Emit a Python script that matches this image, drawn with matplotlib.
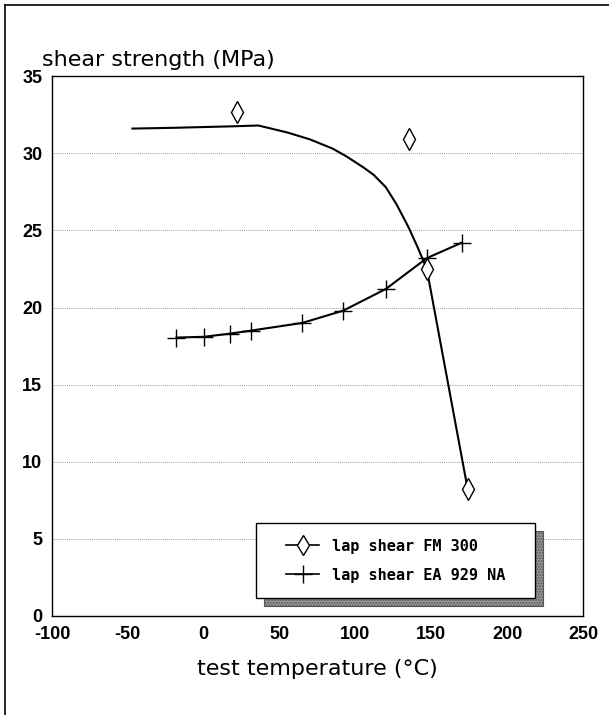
import matplotlib
matplotlib.use("Agg")
import matplotlib.pyplot as plt
from matplotlib.patches import Rectangle
from matplotlib.lines import Line2D

plt.rcParams["axes.unicode_minus"] = False

# measured points, FM 300
fm_temp = [22, 135, 147, 174]
fm_shear = [32.7, 30.9, 22.5, 8.2]
# hand-drawn trend line through FM 300
fm_fit_temp = [-47, -20, 0, 20, 36, 55, 70, 85, 94, 105, 112, 120, 127, 135, 141, 147, 174]
fm_fit_shear = [31.6, 31.65, 31.7, 31.75, 31.8, 31.35, 30.9, 30.3, 29.8, 29.1, 28.6, 27.8, 26.7, 25.2, 23.9, 22.5, 8.2]

# EA 929 NA
ea_temp = [-18, 0, 17, 31, 65, 92, 120, 147, 170]
ea_shear = [18.05, 18.1, 18.3, 18.5, 19.0, 19.8, 21.2, 23.2, 24.2]

xticks = [-100, -50, 0, 50, 100, 150, 200, 250]
yticks = [0, 5, 10, 15, 20, 25, 30, 35]

fig = plt.figure(figsize=(6.09, 7.15), dpi=100)
ax = fig.add_axes([0.0854, 0.1385, 0.872, 0.755])

ax.plot(fm_fit_temp, fm_fit_shear, color="black", lw=1.5, zorder=3)
ax.plot(fm_temp, fm_shear, ls="none", marker="d", ms=11, mfc="white",
        mec="black", mew=1.0, zorder=4)
ax.plot(ea_temp, ea_shear, color="black", lw=1.5, marker="+", ms=13,
        mew=1.0, zorder=3)

ax.set_xlim(-100, 250)
ax.set_ylim(0, 35)
ax.set_xticks(xticks)
ax.set_yticks(yticks)
ax.tick_params(length=0, labelsize=13, pad=7)
for lab in ax.get_xticklabels() + ax.get_yticklabels():
    lab.set_fontfamily("Liberation Sans")
    lab.set_fontweight("bold")
ax.yaxis.grid(True, ls=(0, (1, 1.5)), lw=0.6, color="#777777")
ax.set_axisbelow(True)
for sp in ax.spines.values():
    sp.set_linewidth(1.0)

ax.set_xlabel("test temperature (\u00b0C)", fontsize=16, labelpad=12)
ax.text(-0.018, 1.012, "shear strength (MPa)", transform=ax.transAxes,
        fontsize=16, ha="left", va="bottom")

# legend with grey drop shadow
lx, ly, lw_, lh = 0.384, 0.033, 0.525, 0.139
ax.add_patch(Rectangle((lx + 0.015, ly - 0.015), lw_, lh, transform=ax.transAxes,
                       facecolor="#9a9a9a", edgecolor="#555555", lw=0.8,
                       hatch="......", zorder=5))
ax.add_patch(Rectangle((lx, ly), lw_, lh, transform=ax.transAxes,
                       facecolor="white", edgecolor="black", lw=1.0, zorder=6))
handles = [Line2D([], [], color="black", lw=1.2, marker="d", ms=10, mfc="white", mec="black"),
           Line2D([], [], color="black", lw=1.2, marker="+", ms=13)]
leg = ax.legend(handles, ["lap shear FM 300", "lap shear EA 929 NA"],
                loc="center", bbox_to_anchor=(lx, ly, lw_, lh),
                frameon=False, prop={"family": "DejaVu Sans Mono", "weight": "bold", "size": 11},
                handlelength=2.2, labelspacing=0.9)
leg.set_zorder(7)

# outer frame of the scanned figure
fig.add_artist(Line2D([0.008, 1.0], [0.993, 0.993], color="black", lw=1.2))
fig.add_artist(Line2D([0.008, 0.008], [0.0, 0.993], color="black", lw=1.2))

fig.savefig("out.png", dpi=100)
